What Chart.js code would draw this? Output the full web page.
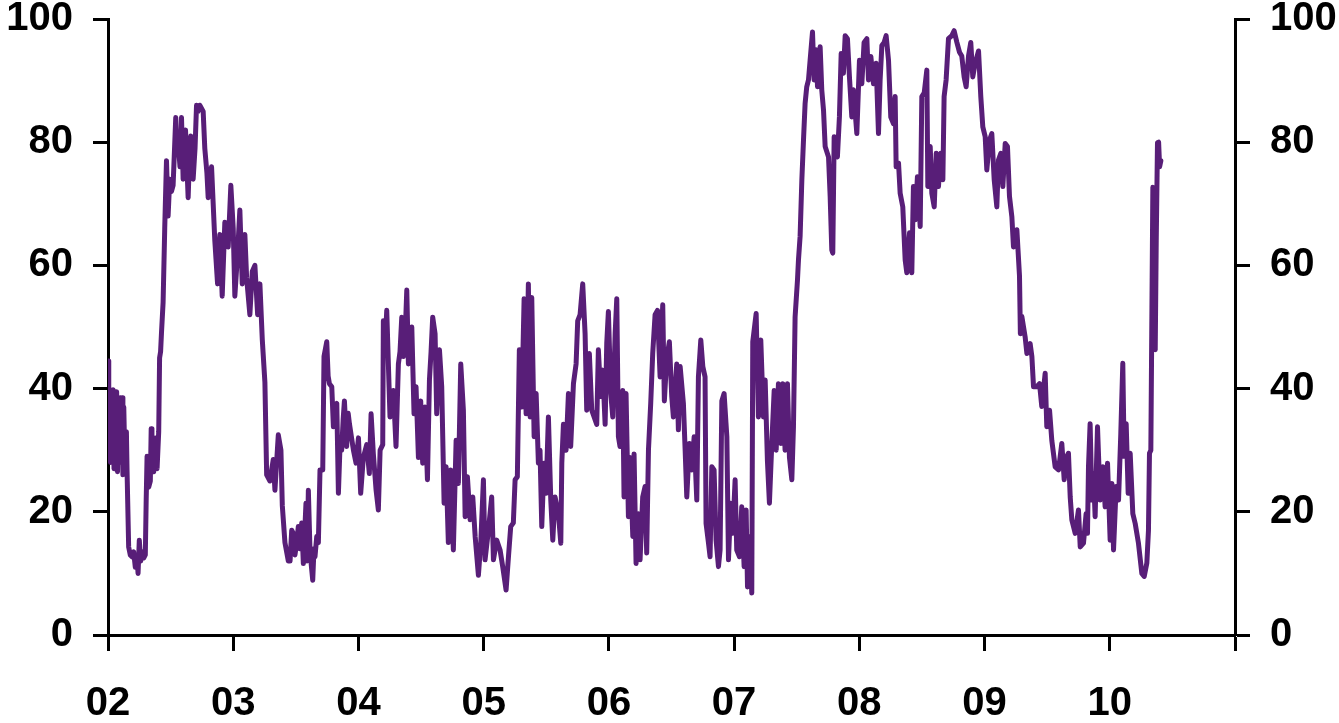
<!DOCTYPE html>
<html>
<head>
<meta charset="utf-8">
<script src="https://cdn.jsdelivr.net/npm/chart.js@4.4.1/dist/chart.umd.min.js"></script>
<style>
  html, body { margin: 0; padding: 0; background: #ffffff; }
  #wrap { width: 1339px; height: 723px; }
</style>
</head>
<body>
<div id="wrap"><canvas id="c" width="1339" height="723"></canvas></div>
<script>
// Decimal-year dates of the observations
const dates = [
  2002.000,2002.006,2002.012,2002.020,2002.027,2002.034,2002.041,2002.048,2002.055,2002.062,
  2002.069,2002.076,2002.084,2002.091,2002.098,2002.105,2002.112,2002.119,2002.126,2002.133,
  2002.140,2002.147,2002.152,2002.165,2002.178,2002.192,2002.205,2002.218,2002.232,2002.240,
  2002.250,2002.261,2002.272,2002.285,2002.298,2002.305,2002.312,2002.325,2002.338,2002.345,
  2002.351,2002.365,2002.378,2002.392,2002.405,2002.412,2002.420,2002.427,2002.440,2002.453,
  2002.467,2002.480,2002.493,2002.507,2002.520,2002.541,2002.550,2002.560,2002.575,2002.587,
  2002.600,2002.619,2002.640,2002.650,2002.661,2002.680,2002.695,2002.707,2002.720,2002.733,
  2002.760,2002.773,2002.790,2002.800,2002.827,2002.853,2002.875,2002.893,2002.912,2002.933,
  2002.960,2002.981,2003.000,2003.013,2003.035,2003.053,2003.072,2003.093,2003.107,2003.133,
  2003.152,2003.173,2003.195,2003.213,2003.232,2003.253,2003.267,2003.293,2003.320,2003.333,
  2003.360,2003.381,2003.392,2003.413,2003.440,
  2003.454,2003.467,2003.480,2003.493,2003.507,2003.520,2003.533,2003.547,2003.560,2003.581,
  2003.590,2003.600,2003.613,2003.625,2003.635,2003.645,2003.653,2003.667,2003.680,2003.693,
  2003.715,2003.725,2003.747,2003.758,2003.768,2003.787,2003.800,2003.813,2003.827,2003.840,
  2003.855,2003.866,2003.878,2003.888,2003.906,2003.918,2003.928,2003.945,2003.960,2003.981,
  2004.000,2004.018,2004.039,2004.066,2004.087,2004.101,2004.119,2004.141,2004.159,2004.173,
  2004.194,2004.199,2004.213,2004.226,2004.239,2004.252,2004.265,2004.279,2004.300,2004.319,
  2004.332,2004.346,2004.359,2004.372,2004.386,2004.399,2004.412,2004.426,2004.444,2004.460,
  2004.479,2004.497,2004.513,2004.532,2004.551,2004.567,2004.580,2004.593,2004.612,2004.625,
  2004.647,2004.665,2004.684,2004.700,2004.718,2004.737,2004.758,2004.780,2004.798,2004.817,
  2004.838,2004.852,2004.870,2004.892,2004.913,2004.932,2004.958,2004.977,2004.998,
  2005.011,2005.038,2005.064,2005.078,2005.104,2005.131,2005.152,2005.179,2005.198,2005.216,
  2005.237,2005.251,2005.269,2005.285,2005.304,2005.323,2005.339,2005.357,2005.371,2005.384,
  2005.403,2005.419,2005.437,2005.450,2005.464,2005.482,2005.498,2005.517,2005.536,2005.552,
  2005.570,2005.597,2005.616,2005.624,2005.637,2005.658,2005.677,2005.695,2005.717,2005.738,
  2005.751,2005.770,2005.791,2005.810,2005.823,2005.844,2005.863,2005.882,2005.903,2005.916,
  2005.935,2005.951,2005.970,2005.983,2005.996,2006.015,2006.031,2006.050,2006.063,2006.076,
  2006.089,2006.111,2006.121,2006.137,2006.156,2006.169,2006.191,2006.201,2006.217,2006.236,
  2006.249,2006.270,2006.289,2006.302,2006.316,2006.334,2006.350,2006.369,2006.388,2006.409,
  2006.430,2006.443,2006.462,2006.483,2006.502,2006.515,2006.542,2006.555,2006.569,
  2006.595,2006.609,2006.622,2006.643,2006.662,2006.681,2006.702,2006.715,2006.734,2006.750,
  2006.768,2006.776,2006.795,2006.808,2006.822,2006.840,2006.856,2006.875,2006.888,2006.902,
  2006.920,2006.942,2006.955,2006.973,2006.989,2007.008,2007.021,2007.043,2007.061,2007.080,
  2007.096,2007.107,2007.128,2007.141,2007.149,2007.176,2007.194,2007.213,2007.234,2007.248,
  2007.266,2007.282,2007.301,2007.320,2007.336,2007.354,2007.373,2007.389,2007.407,2007.426,
  2007.442,2007.461,2007.474,2007.487,2007.506,
  2007.514,2007.527,2007.541,2007.554,2007.567,2007.580,2007.594,2007.607,2007.626,2007.639,
  2007.655,2007.666,2007.687,2007.700,2007.714,2007.727,2007.754,2007.767,2007.780,2007.788,
  2007.799,2007.825,2007.841,2007.855,2007.873,2007.887,2007.905,2007.921,2007.940,2007.953,
  2007.980,2008.001,2008.020,2008.038,2008.060,2008.073,2008.092,2008.113,2008.134,2008.153,
  2008.166,2008.180,2008.198,2008.214,2008.233,2008.251,2008.273,2008.286,2008.294,2008.313,
  2008.326,2008.347,2008.366,2008.379,2008.401,2008.419,2008.432,2008.446,2008.464,2008.486,
  2008.499,2008.518,2008.539,2008.547,2008.566,2008.579,2008.598,2008.614,2008.632,2008.651,
  2008.667,2008.677,2008.693,2008.712,2008.739,2008.757,2008.779,2008.800,2008.818,2008.837,
  2008.853,2008.872,2008.890,2008.906,2008.925,2008.952,2008.970,2008.986,2009.005,2009.018,
  2009.039,2009.058,2009.077,2009.098,2009.111,2009.130,2009.146,2009.165,2009.183,2009.199,
  2009.218,2009.231,2009.258,2009.279,
  2009.286,2009.298,2009.324,2009.338,2009.364,2009.378,2009.391,2009.417,2009.439,2009.457,
  2009.484,2009.497,2009.519,2009.537,2009.564,2009.591,2009.617,2009.636,2009.657,2009.670,
  2009.684,2009.697,2009.724,2009.750,2009.764,2009.790,2009.811,2009.822,2009.830,2009.843,
  2009.857,2009.870,2009.883,2009.902,2009.923,2009.945,2009.963,2009.982,2010.003,2010.017,
  2010.030,2010.051,2010.070,2010.088,2010.104,2010.115,2010.131,2010.147,2010.163,2010.184,
  2010.203,2010.229,2010.256,2010.275,2010.296,2010.309,2010.317,2010.328,2010.344,2010.350,
  2010.356,2010.363,2010.371,2010.381,2010.390,2010.398,2010.408
];

// Index values (0-100)
const values = [
  44.5,32,39.8,28,39.5,30,39.8,27,38,29,
  39.5,26.5,36,28,38.5,31,38.5,26,37,30,
  27,33,26.8,14.3,13,12.7,13.5,11,12.5,10,
  15.4,12,13.5,12.5,13,22,29,24,25,33.5,
  28,26.5,32,27,33,45,46,49,54,66,
  77,68,74,72,73,84,78,80,76,84,
  74,82,71,77,81,74,79,86,85,86,
  85,79,75,71,76,64,57,65,55,67,
  63,73,66,55,62,69,57,65,58,52,
  59,60,52,57,48,41,26,25,28.5,23.5,
  32.5,30,21,15,12,
  12,17,16.5,13,15,17.6,14,18.2,11.6,21.4,
  12,23.5,13.8,11,8.9,14,12.7,16,15,26.8,
  26.8,45.2,47.6,42,40.8,40.3,33.8,37,37.6,23,
  32,30,35,38,30.6,36,34.3,32,30,27.9,
  32,23,28.8,30.9,26.2,35.9,29.4,23.5,20.3,30,
  30.9,51,47,52.7,44,35.4,38,39.7,30.6,44,
  46,51.6,45.2,48,56,44,48,50,35.9,40.3,
  28.8,38,27.9,37,25.2,41.4,46,51.6,48.9,35.9,
  46.3,40.3,21.4,27.3,15,26.8,13.8,31.6,24.6,44,
  36.5,19.2,25.7,18.7,22.4,16,9.7,15,25.2,
  12.2,17,22.4,12.2,15.4,13.8,11.1,7.3,12.7,17.6,
  18.2,25.2,25.7,46.3,37,54.6,35.9,57,35.4,54.8,
  32.2,39.2,27.9,30,17.6,27.9,23,35.4,21.9,15.4,
  22.4,19.7,14.9,27.9,34.2,30,39.2,30.6,40.8,44,
  51,52,57,48.9,36.5,45.7,36.5,35.4,34.2,46.3,
  38.7,43,34.2,47.4,52.5,39.2,35.4,48.9,54.6,32.2,
  30.6,39.7,22.4,39.2,19.2,28.8,16,29.4,11.6,19.7,
  12.2,22.4,24.1,13.3,30,37.6,45.7,52,52.7,41.9,
  53.6,38,44.9,47.6,38.7,35.4,44,33.3,43.6,
  37.6,30,22.4,31.1,26.8,32.2,21.9,41.9,47.9,43.6,
  41.9,18.1,15,12.7,27.3,26.8,15.4,11.1,13.8,38,
  39.2,32.2,12.2,21.4,16.5,25.2,13.8,12.7,20.8,11.1,
  20.3,7.8,16,6.8,47.6,52.2,35.4,47.9,35.4,41.4,
  28.3,21.4,31.1,39.7,30,40.8,31.1,40.8,30,40.8,
  28.8,25.2,33.8,51.6,57.6,
  60.9,64.7,73.9,80.3,86.3,89,90.1,93.3,97.9,90.1,
  95,89,95.5,88.5,85.2,79.3,77.6,71.2,62.5,62,
  80.9,77.6,84.1,94.4,91.2,97.3,96.8,90.6,84.1,88.5,
  81.4,93.3,89.5,96.2,96.8,90.1,93.9,89.5,92.8,81.4,
  90.1,95.7,96.2,97.3,93.3,84.1,83,87.4,76,76.6,
  71.7,69.5,60.9,58.8,65.3,58.8,72.8,67.4,74.4,66.3,
  87.4,88,91.7,72.8,79.3,71.7,69.5,78.2,72.8,78.2,
  73.9,87.4,90.1,96.8,97.3,98.1,96.2,94.6,94,90.6,
  89,94,96.2,90.6,92.8,94.8,87.4,82.5,80.9,75.5,
  80.3,81.4,73.9,69.5,77.1,78.2,72.8,79.8,79.3,71.2,
  67.9,63,65.8,58.3,
  48.9,51.7,48.4,45.7,47.3,45.2,40.3,40.3,40.8,37.1,
  42.5,33.8,36.5,31.6,27.3,26.8,31.1,25.2,29,29.5,
  22.4,18.7,16.5,20.3,14.3,14.9,19.7,16.5,27.3,34.3,
  21.9,26.2,19.2,33.8,21.9,27.3,20.8,27.9,15.4,24.6,
  13.8,24.1,21.9,32.7,44.1,29,34.3,23,29.5,19.7,
  18.1,14.9,10,9.5,11.7,17,29.5,30,72.7,50,
  66,46.3,64,79.9,80,76,77
];

// Axis ticks
const yTicks = [0, 20, 40, 60, 80, 100];
const yearTicks = [2002, 2003, 2004, 2005, 2006, 2007, 2008, 2009, 2010, 2011];
const yearLabels = ['02', '03', '04', '05', '06', '07', '08', '09', '10', ''];

const FONT = { family: '"Liberation Sans", Arial, Helvetica, sans-serif', size: 40, weight: 'bold', lineHeight: 0.95 };
const INK = '#000000';
const LINE = '#581e78';

const points = dates.map((d, i) => ({ x: d, y: values[i] }));

function yAxis(position, width) {
  return {
    type: 'linear',
    position: position,
    min: yTicks[0],
    max: yTicks[yTicks.length - 1],
    afterBuildTicks: (s) => { s.ticks = yTicks.map(v => ({ value: v })); },
    ticks: { font: FONT, color: INK, padding: 20 },
    grid: { drawOnChartArea: false, drawTicks: true, tickLength: 15, tickColor: INK, tickWidth: 3 },
    border: { display: true, color: INK, width: 3 },
    afterFit: (s) => { s.width = width; s.paddingTop = 0; s.paddingBottom = 0; }
  };
}

new Chart(document.getElementById('c'), {
  type: 'line',
  data: {
    datasets: [{
      data: points,
      borderColor: LINE,
      borderWidth: 5,
      pointRadius: 0,
      tension: 0,
      fill: false,
      borderCapStyle: 'round',
      borderJoinStyle: 'round',
      yAxisID: 'y'
    }]
  },
  options: {
    responsive: false,
    animation: false,
    devicePixelRatio: 1,
    layout: { padding: { top: 19, left: 0, right: 0, bottom: 0 } },
    plugins: { legend: { display: false }, tooltip: { enabled: false } },
    scales: {
      x: {
        type: 'linear',
        min: yearTicks[0],
        max: yearTicks[yearTicks.length - 1],
        afterBuildTicks: (s) => { s.ticks = yearTicks.map(v => ({ value: v })); },
        ticks: {
          font: FONT, color: INK, padding: 34, maxRotation: 0, autoSkip: false,
          callback: (v) => { const i = yearTicks.indexOf(v); return i >= 0 ? yearLabels[i] : ''; }
        },
        grid: { drawOnChartArea: false, drawTicks: true, tickLength: 16, tickColor: INK, tickWidth: 3 },
        border: { display: true, color: INK, width: 3 },
        afterFit: (s) => { s.height = 88; s.paddingLeft = 0; s.paddingRight = 0; }
      },
      y: yAxis('left', 108),
      y1: yAxis('right', 104)
    }
  }
});
</script>
</body>
</html>
